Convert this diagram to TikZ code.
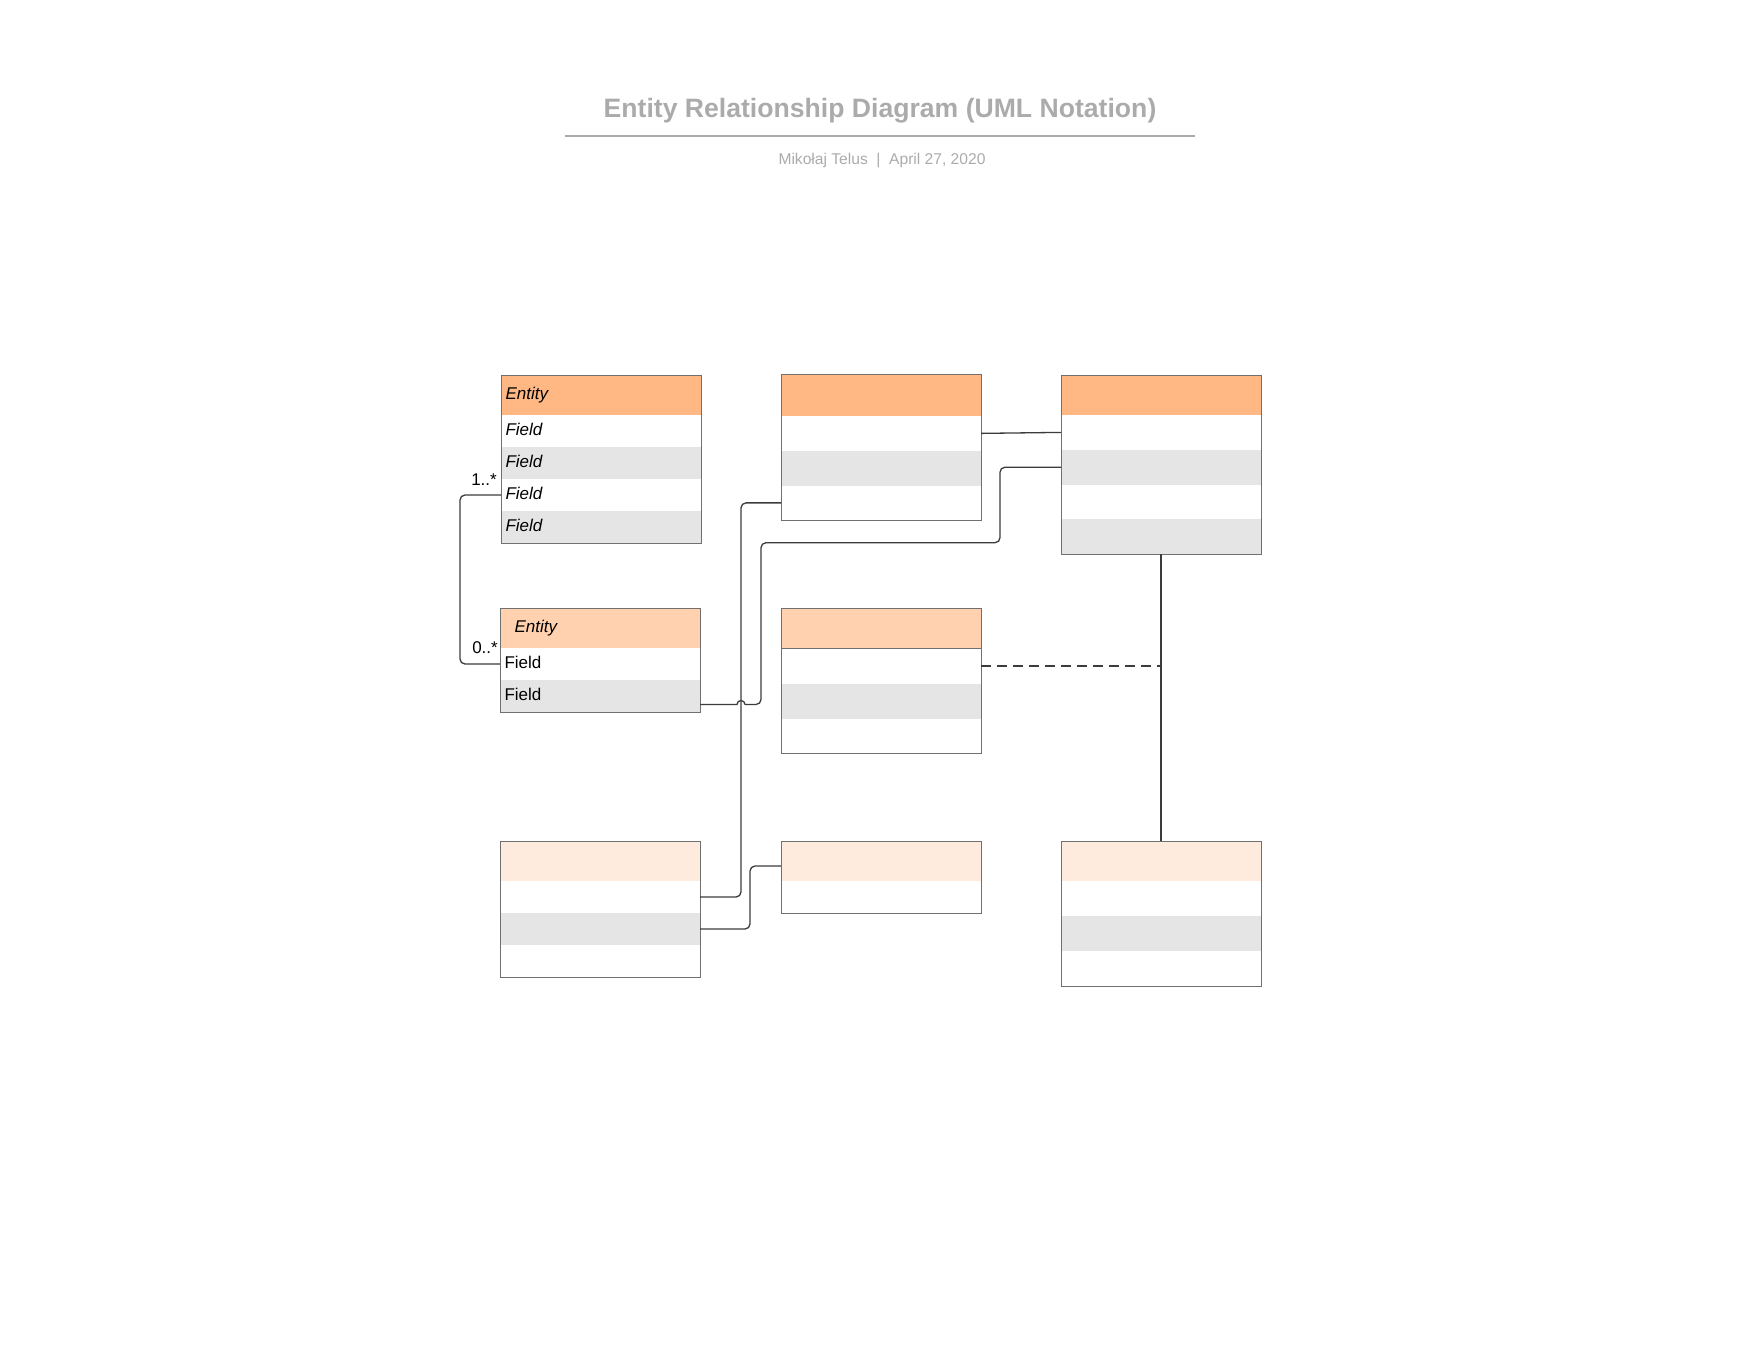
\documentclass[tikz,border=0pt]{standalone}
\usepackage{fontspec}
\setmainfont{Liberation Sans}
\usetikzlibrary{calc,positioning}
\definecolor{hdA}{HTML}{FFB784}
\definecolor{hdB}{HTML}{FFD1AE}
\definecolor{hdC}{HTML}{FFEBDE}
\definecolor{rowgrey}{HTML}{E5E5E5}
\definecolor{boxc}{HTML}{707070}
\definecolor{linec}{HTML}{3C3C3C}
\definecolor{titlec}{HTML}{ABABAB}
\tikzset{
  head/.style={
    shape = rectangle,
    draw = boxc,
    line width = 1pt,
    anchor = north west,
    inner xsep = 4.5pt,
    inner ysep = 0pt,
    outer sep = 0pt,
    text width = 191pt,
    text depth = 4pt,
    align = left,
    minimum height = 40pt,
    font = \fontsize{17}{20}\selectfont
  },
  field/.style={
    head,
    draw = none,
    fill = white,
    minimum height = 32pt
  },
  boxline/.style={
    draw = boxc,
    line width = 1pt
  },
  conn/.style={
    draw = linec,
    line width = 1.3pt,
    rounded corners = 5pt
  },
  mult/.style={
    inner sep = 0pt,
    anchor = base east,
    font = \fontsize{17}{20}\selectfont
  }
}
\begin{document}
\begin{tikzpicture}[x=1pt,y=-1pt]
\useasboundingbox (0,0) rectangle (1758,1358);
\node[font=\fontsize{26.6}{30}\selectfont\bfseries, text=titlec] (title) at (880,111) {Entity Relationship Diagram (UML Notation)};
\draw[titlec, line width=2pt] (565,135.7) -- (1195,135.7);
\node[font=\fontsize{15.6}{18}\selectfont, text=titlec] (sub) at (882,160.2) {Mikołaj Telus\ \ |\ \ April 27, 2020};
\node[head, fill=hdA] (A) at (501,375) {\textit{Entity}};
\node[field, below=0pt of A] (A-1) {\textit{Field}};
\node[field, fill=rowgrey, below=0pt of A-1] (A-2) {\textit{Field}};
\node[field, below=0pt of A-2] (A-3) {\textit{Field}};
\node[field, fill=rowgrey, below=0pt of A-3] (A-4) {\textit{Field}};
\node[head, fill=hdB] (B) at (500,608) {\hspace*{10pt}\textit{Entity}};
\node[field, below=0pt of B] (B-1) {Field};
\node[field, fill=rowgrey, below=0pt of B-1] (B-2) {Field};
		  \foreach \n/\x/\y/\hh/\rh/\k/\c in {C/781/374.5/41.5/34.75/3/hdA, D/1061/375/40/34.8/4/hdA, E/781/608.5/40/35/3/hdB, F/500/841/40/32/3/hdC, G/781/841/40/32/1/hdC, H/1061/841/40/35/3/hdC}{
		    \node[head, fill=\c, minimum height=\hh] (\n) at (\x,\y) {};
		    \foreach \i in {1,...,\k}{
		      \ifodd\i \def\rc{white}\else \def\rc{rowgrey}\fi
		      \pgfmathsetmacro\yy{\y+\hh+(\i-1)*\rh}
		      \node[field, fill=\rc, minimum height=\rh] (\n-\i) at (\x,\yy) {}; }}
		  \foreach \n/\k in {A/4,B/2,C/3,D/4,E/3,F/3,G/1,H/3}{
		    \draw[boxline] (\n.north west) rectangle (\n-\k.south east); }
\node[mult] (m1) at ([xshift=-4pt,yshift=10pt]A-3.west) {1..*};
\node[mult] (m2) at ([xshift=-2pt,yshift=11pt]B-1.west) {0..*};
\draw[conn] (A-3.west) -- ++(-41,0) |- (B-1.west);
\draw[conn] (F-1.east) -- ++(41,0) |- (C-3.west);
\draw[conn] (C-1.east) -- (D-1.west);
\coordinate (b2) at ([yshift=-8.5pt]B-2.east);
\coordinate (v2) at ([xshift=41pt]F-1.east);
\coordinate (hop) at (b2 -| v2);
\coordinate (bend) at (1000,542.7);
\draw[conn, sharp corners] (b2) -- ([xshift=-4pt]hop) arc[start angle=180, end angle=0, radius=4pt] coordinate (hopR);
\draw[conn] (hopR) -- ([xshift=20pt]hop) |- (bend) |- (D-2.west);
\draw[conn, line width=1.2pt, dash pattern=on 10pt off 6pt] (E-1.east) -- (E-1.east -| D-4.south);
\draw[conn] (D-4.south) -- (H.north);
\draw[conn] (F-2.east) -- ++(50,0) |- ([yshift=-5pt]G.west);
\end{tikzpicture}
\end{document}
